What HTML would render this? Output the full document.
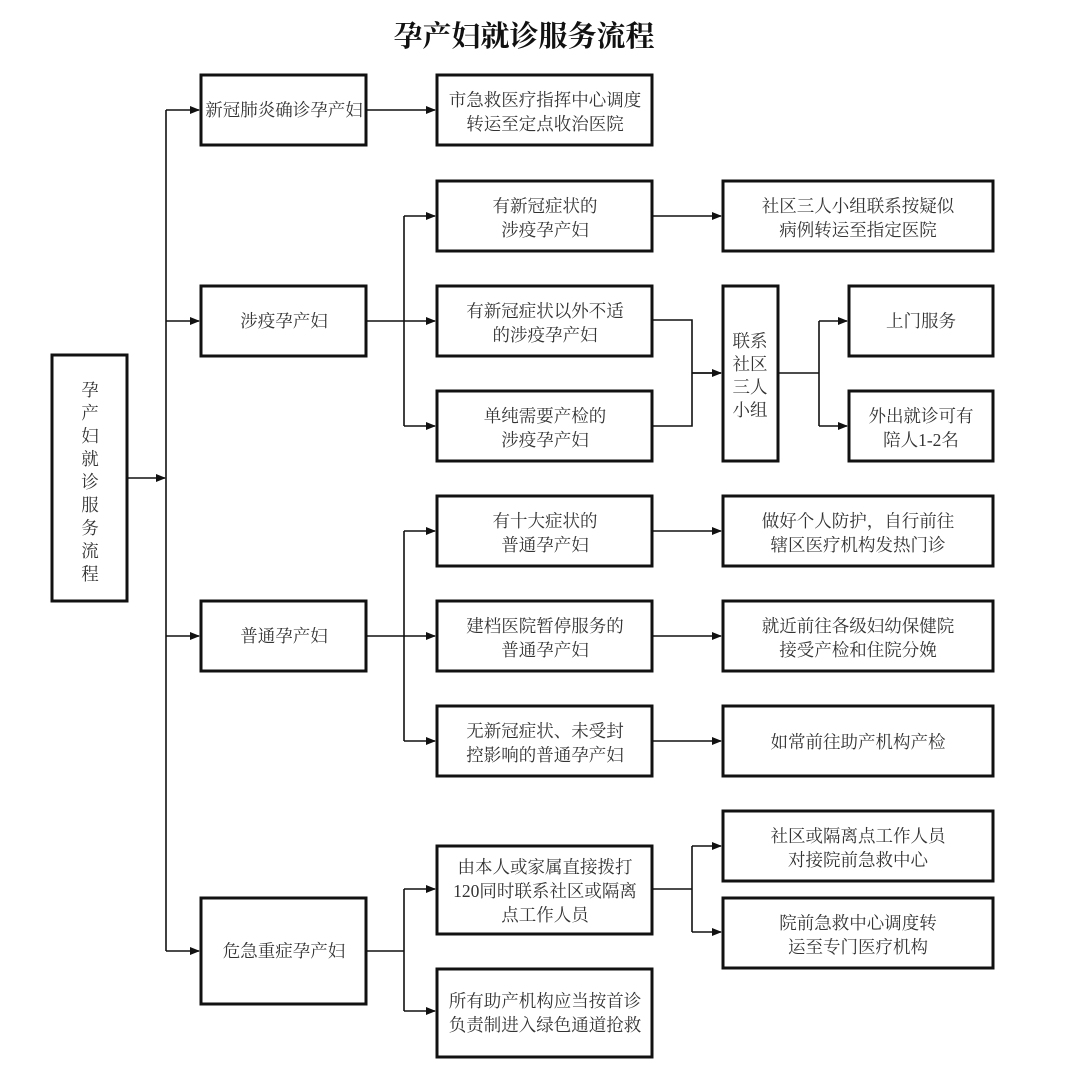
<!DOCTYPE html>
<html><head><meta charset="utf-8"><style>
html,body{margin:0;padding:0;background:#fff;}
svg{display:block;}
text{font-family:"Liberation Serif","Noto Serif CJK SC",serif;font-size:17.5px;fill:#333;text-anchor:middle;}
.b{fill:#fff;stroke:#111;stroke-width:3;}
.l{stroke:#111;stroke-width:1.6;fill:none;}
</style></head><body>
<svg width="1080" height="1066" viewBox="0 0 1080 1066">
<defs><marker id="a" markerWidth="10" markerHeight="10" refX="9" refY="5" orient="auto" markerUnits="userSpaceOnUse"><path d="M0,1 L10,5 L0,9 z" fill="#111"/></marker></defs>
<text x="524" y="46" style="font-size:29px;font-weight:bold;fill:#111;font-family:'Noto Serif CJK SC',serif">孕产妇就诊服务流程</text>

<!-- boxes -->
<rect class="b" x="52" y="355" width="75" height="246"/>
<rect class="b" x="201" y="75" width="165" height="70"/>
<rect class="b" x="201" y="286" width="165" height="70"/>
<rect class="b" x="201" y="601" width="165" height="70"/>
<rect class="b" x="201" y="898" width="165" height="106"/>

<rect class="b" x="437" y="75" width="215" height="70"/>
<rect class="b" x="437" y="181" width="215" height="70"/>
<rect class="b" x="437" y="286" width="215" height="70"/>
<rect class="b" x="437" y="391" width="215" height="70"/>
<rect class="b" x="437" y="496" width="215" height="70"/>
<rect class="b" x="437" y="601" width="215" height="70"/>
<rect class="b" x="437" y="706" width="215" height="70"/>
<rect class="b" x="437" y="846" width="215" height="88"/>
<rect class="b" x="437" y="969" width="215" height="88"/>

<rect class="b" x="723" y="286" width="55" height="175"/>
<rect class="b" x="849" y="286" width="144" height="70"/>
<rect class="b" x="849" y="391" width="144" height="70"/>

<rect class="b" x="723" y="181" width="270" height="70"/>
<rect class="b" x="723" y="496" width="270" height="70"/>
<rect class="b" x="723" y="601" width="270" height="70"/>
<rect class="b" x="723" y="706" width="270" height="70"/>
<rect class="b" x="723" y="811" width="270" height="70"/>
<rect class="b" x="723" y="898" width="270" height="70"/>

<!-- lines -->
<path class="l" d="M127,478 H165" marker-end="url(#a)"/>
<path class="l" d="M166,110 V951"/>
<path class="l" d="M166,110 H199" marker-end="url(#a)"/>
<path class="l" d="M166,321 H199" marker-end="url(#a)"/>
<path class="l" d="M166,636 H199" marker-end="url(#a)"/>
<path class="l" d="M166,951 H199" marker-end="url(#a)"/>
<path class="l" d="M366,110 H435" marker-end="url(#a)"/>

<path class="l" d="M366,321 H404 M404,216 V426"/>
<path class="l" d="M404,216 H435" marker-end="url(#a)"/>
<path class="l" d="M404,321 H435" marker-end="url(#a)"/>
<path class="l" d="M404,426 H435" marker-end="url(#a)"/>
<path class="l" d="M652,216 H721" marker-end="url(#a)"/>
<path class="l" d="M652,320 H692 V426 H652 M692,373 H721" />
<path class="l" d="M692,373 H721" marker-end="url(#a)"/>
<path class="l" d="M778,373 H819 M819,321 V426"/>
<path class="l" d="M819,321 H847" marker-end="url(#a)"/>
<path class="l" d="M819,426 H847" marker-end="url(#a)"/>

<path class="l" d="M366,636 H404 M404,531 V741"/>
<path class="l" d="M404,531 H435" marker-end="url(#a)"/>
<path class="l" d="M404,636 H435" marker-end="url(#a)"/>
<path class="l" d="M404,741 H435" marker-end="url(#a)"/>
<path class="l" d="M652,531 H721" marker-end="url(#a)"/>
<path class="l" d="M652,636 H721" marker-end="url(#a)"/>
<path class="l" d="M652,741 H721" marker-end="url(#a)"/>

<path class="l" d="M366,951 H404 M404,889 V1011"/>
<path class="l" d="M404,889 H435" marker-end="url(#a)"/>
<path class="l" d="M404,1011 H435" marker-end="url(#a)"/>
<path class="l" d="M652,889 H692 M692,846 V932"/>
<path class="l" d="M692,846 H721" marker-end="url(#a)"/>
<path class="l" d="M692,932 H721" marker-end="url(#a)"/>

<!-- text -->
<g>
<text x="90" y="396">孕</text><text x="90" y="419">产</text><text x="90" y="442">妇</text><text x="90" y="465">就</text><text x="90" y="488">诊</text><text x="90" y="511">服</text><text x="90" y="534">务</text><text x="90" y="557">流</text><text x="90" y="580">程</text>
</g>
<text x="284" y="116">新冠肺炎确诊孕产妇</text>
<text x="284" y="327">涉疫孕产妇</text>
<text x="284" y="642">普通孕产妇</text>
<text x="284" y="957">危急重症孕产妇</text>

<text x="545" y="106">市急救医疗指挥中心调度</text><text x="545" y="130">转运至定点收治医院</text>
<text x="545" y="212">有新冠症状的</text><text x="545" y="236">涉疫孕产妇</text>
<text x="545" y="317">有新冠症状以外不适</text><text x="545" y="341">的涉疫孕产妇</text>
<text x="545" y="422">单纯需要产检的</text><text x="545" y="446">涉疫孕产妇</text>
<text x="545" y="527">有十大症状的</text><text x="545" y="551">普通孕产妇</text>
<text x="545" y="632">建档医院暂停服务的</text><text x="545" y="656">普通孕产妇</text>
<text x="545" y="737">无新冠症状、未受封</text><text x="545" y="761">控影响的普通孕产妇</text>
<text x="545" y="873">由本人或家属直接拨打</text><text x="545" y="897">120同时联系社区或隔离</text><text x="545" y="921">点工作人员</text>
<text x="545" y="1007">所有助产机构应当按首诊</text><text x="545" y="1031">负责制进入绿色通道抢救</text>

<text x="750" y="347">联系</text><text x="750" y="370">社区</text><text x="750" y="393">三人</text><text x="750" y="416">小组</text>
<text x="921" y="327">上门服务</text>
<text x="921" y="422">外出就诊可有</text><text x="921" y="446">陪人1-2名</text>

<text x="858" y="212">社区三人小组联系按疑似</text><text x="858" y="236">病例转运至指定医院</text>
<text x="858" y="527">做好个人防护，自行前往</text><text x="858" y="551">辖区医疗机构发热门诊</text>
<text x="858" y="632">就近前往各级妇幼保健院</text><text x="858" y="656">接受产检和住院分娩</text>
<text x="858" y="748">如常前往助产机构产检</text>
<text x="858" y="842">社区或隔离点工作人员</text><text x="858" y="866">对接院前急救中心</text>
<text x="858" y="929">院前急救中心调度转</text><text x="858" y="953">运至专门医疗机构</text>
</svg>
</body></html>
